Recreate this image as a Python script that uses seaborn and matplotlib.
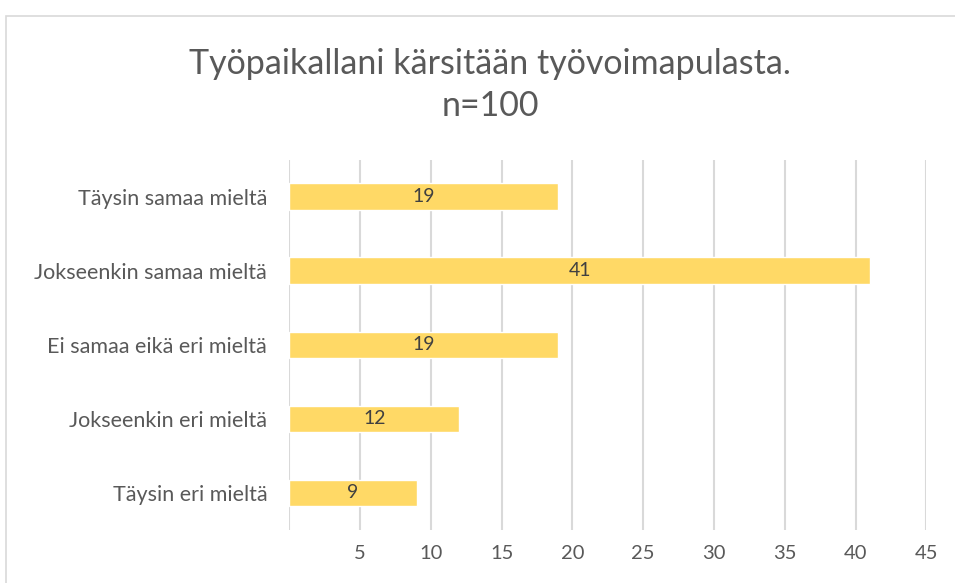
import matplotlib
matplotlib.use("Agg")
import matplotlib.pyplot as plt
import seaborn as sns
import pandas as pd
from matplotlib.patches import Rectangle

# ==============================
# DATA
# ==============================
categories = [
    "Täysin samaa mieltä",
    "Jokseenkin samaa mieltä",
    "Ei samaa eikä eri mieltä",
    "Jokseenkin eri mieltä",
    "Täysin eri mieltä",
]
counts = [19, 41, 19, 12, 9]
x_ticks = [5, 10, 15, 20, 25, 30, 35, 40, 45]
title_text = "Työpaikallani kärsitään työvoimapulasta.\nn=100"

df = pd.DataFrame({"vastaus": categories, "lkm": counts})

# ==============================
# STYLE
# ==============================
sns.set_theme(style="white")
plt.rcParams["font.family"] = ["Lato", "DejaVu Sans"]
text_grey = "#595959"

fig = plt.figure(figsize=(9.55, 5.83), dpi=100)
ax = fig.add_axes([0.303, 0.091, 0.667, 0.635])

sns.barplot(data=df, x="lkm", y="vastaus", orient="h", color="#FFD966",
            saturation=1, width=0.36, ax=ax)

for cont in ax.containers:
    ax.bar_label(cont, label_type="center", fontsize=14, color="#404040")

ax.set_xlim(0, 45)
ax.set_xticks([0] + x_ticks)
ax.set_xticklabels([""] + [str(t) for t in x_ticks])
ax.xaxis.grid(True, color="#D9D9D9", linewidth=1.5)
ax.set_axisbelow(True)
ax.tick_params(axis="both", length=0, labelcolor=text_grey)
ax.tick_params(axis="x", pad=11, labelsize=14.5)
ax.tick_params(axis="y", pad=16, labelsize=15.5)
ax.set_xlabel("")
ax.set_ylabel("")
for s in ax.spines.values():
    s.set_visible(False)

fig.suptitle(title_text, x=0.513, y=0.917, fontsize=24.5, color=text_grey,
             linespacing=1.36)

# chart area border (cropped on right/bottom)
fig.patches.append(Rectangle((6 / 955, -0.1), 1.2, 1 - 16 / 583 + 0.1,
                             transform=fig.transFigure, fill=False,
                             edgecolor="#D9D9D9", linewidth=1.2))

plt.savefig("out.png", dpi=100)
